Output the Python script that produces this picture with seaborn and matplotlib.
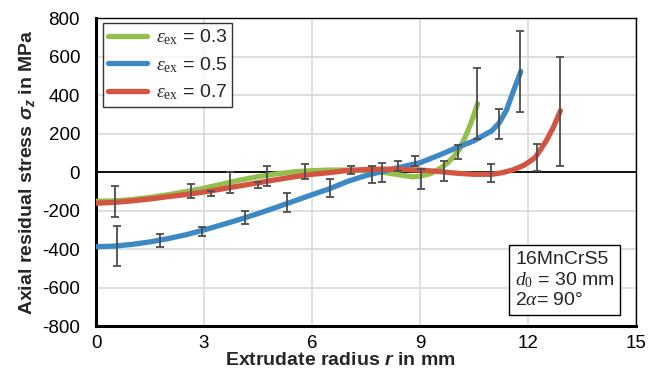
import numpy as np
import pandas as pd
import matplotlib
matplotlib.use("Agg")
from matplotlib import pyplot as plt
import seaborn as sns

# curves: r in mm, sigma_z in MPa
r_03 = [0, 0.5, 1.0, 1.5, 2.0, 2.5, 3.0, 3.5, 4.0, 4.5, 5.0, 5.5, 6.0, 6.5, 7.0, 7.5,
        8.0, 8.4, 8.8, 9.0, 9.3, 9.55, 9.75, 9.92, 10.1, 10.3, 10.45, 10.6]
s_03 = [-152, -150, -143, -132, -118, -102, -84, -63, -42, -24, -10, 1, 7, 10, 10, 7,
        -2, -14, -25, -22, -8, 17, 45, 76, 120, 200, 272, 355]

r_05 = [0, 0.5, 1.0, 1.5, 2.0, 2.5, 3.0, 3.5, 4.0, 4.5, 5.0, 5.5, 6.0, 6.5, 7.0, 7.5,
        8.0, 8.5, 9.0, 9.5, 10.0, 10.5, 11.0, 11.2, 11.4, 11.6, 11.8]
s_05 = [-388, -385, -376, -363, -346, -326, -301, -274, -246, -216, -184, -151, -118, -86, -48, -18,
        5, 27, 48, 85, 125, 162, 215, 255, 320, 423, 522]

r_07 = [0, 0.5, 1.0, 1.5, 2.0, 2.5, 3.0, 3.5, 4.0, 4.5, 5.0, 5.5, 6.0, 6.5, 7.0, 7.5,
        8.0, 8.5, 9.0, 9.5, 10.0, 10.5, 11.0, 11.3, 11.6, 11.9, 12.2, 12.5, 12.7, 12.9]
s_07 = [-162, -158, -150, -140, -128, -117, -104, -88, -72, -56, -40, -25, -12, -3, 8, 13,
        15, 14, 10, 3, -6, -12, -12, -3, 12, 36, 75, 160, 230, 318]

# measured scatter (error bars)
err_r = [0.53, 0.58, 1.78, 2.64, 2.94, 3.2, 3.72, 4.14, 4.5, 4.76, 5.3, 5.8, 6.5, 7.08,
         7.66, 7.95, 8.4, 8.85, 9.03, 9.67, 10.05, 10.58, 10.97, 11.2, 11.78, 12.25, 12.9]
err_lo = [-234, -488, -390, -135, -330, -125, -110, -272, -83, -73, -208, -36, -130, -10,
          -57, -52, 5, 31, -86, -47, 68, 169, -52, 169, 311, 3, 30]
err_hi = [-73, -280, -322, -62, -287, -97, 0, -202, -52, 31, -110, 42, -36, 31,
          31, 47, 57, 83, 18, 57, 140, 540, 42, 325, 730, 148, 596]

series_labels = [r"$\varepsilon_{\mathrm{ex}}$ = 0.3",
                 r"$\varepsilon_{\mathrm{ex}}$ = 0.5",
                 r"$\varepsilon_{\mathrm{ex}}$ = 0.7"]
colors = ["#93c04c", "#3c89c6", "#d35440"]

x_ticks = [0, 3, 6, 9, 12, 15]
y_ticks = [-800, -600, -400, -200, 0, 200, 400, 600, 800]

sns.set_theme(style="white")
plt.rcParams["font.family"] = ["Liberation Sans", "DejaVu Sans"]
plt.rcParams["axes.unicode_minus"] = False
plt.rcParams["mathtext.fontset"] = "custom"
plt.rcParams["mathtext.rm"] = "Liberation Serif"
plt.rcParams["mathtext.it"] = "Liberation Serif:italic"
plt.rcParams["mathtext.bfit"] = "Liberation Sans:bold:italic"

df = pd.concat([
    pd.DataFrame({"r": r, "sigma": s, "series": lab})
    for r, s, lab in zip([r_03, r_05, r_07], [s_03, s_05, s_07], series_labels)
])

fig, ax = plt.subplots(figsize=(6.6, 3.79), dpi=100)
fig.subplots_adjust(left=0.1455, right=0.9636, top=0.9525, bottom=0.1398)

ax.grid(True, color="#d9d9d9", lw=1.2)
ax.set_axisbelow(True)
ax.axhline(0, color="black", lw=1.3, zorder=2)

sns.lineplot(data=df, x="r", y="sigma", hue="series", palette=colors, sort=False,
             estimator=None, lw=3.8, ax=ax, zorder=3)

mid = (np.array(err_lo) + np.array(err_hi)) / 2
ax.errorbar(err_r, mid, yerr=[mid - np.array(err_lo), np.array(err_hi) - mid],
            fmt="none", ecolor="#4d4d4d", elinewidth=1.3, capsize=3, capthick=1.3, zorder=4)

ax.set_xlim(0, 15)
ax.set_ylim(-800, 800)
ax.set_xticks(x_ticks)
ax.set_yticks(y_ticks)
ax.tick_params(axis="both", direction="inout", length=7, width=2, colors="black", labelsize=13.5)
ax.tick_params(axis="y", pad=8)
ax.tick_params(axis="x", pad=3)

for side in ["left", "bottom"]:
    ax.spines[side].set_linewidth(2.2)
    ax.spines[side].set_color("black")
for side in ["top", "right"]:
    ax.spines[side].set_linewidth(1.0)
    ax.spines[side].set_color("black")

ax.set_xlabel(r"Extrudate radius $\mathbfit{r}$ in mm", fontsize=14, fontweight="bold", labelpad=-1)
ax.xaxis.set_label_coords(0.452, -0.085)
ax.set_ylabel(r"Axial residual stress $\mathbfit{\sigma_z}$ in MPa", fontsize=14,
              fontweight="bold", labelpad=4)

handles, labels = ax.get_legend_handles_labels()
leg = ax.legend(handles, labels, loc="upper left", bbox_to_anchor=(0.013, 0.985),
                borderaxespad=0, frameon=True, fancybox=False, edgecolor="black",
                fontsize=14, handlelength=2.0, handletextpad=0.45, labelspacing=0.4,
                borderpad=0.25)
leg.get_frame().set_linewidth(1.0)

ax.text(0.776, 0.055, "16MnCrS5\n$d_0$ = 30 mm\n2$\\alpha$= 90°", transform=ax.transAxes,
        fontsize=14, ha="left", va="bottom", linespacing=1.15, zorder=5,
        bbox=dict(boxstyle="square,pad=0.3", fc="white", ec="black", lw=1.0))

fig.savefig("out.png", dpi=100)
